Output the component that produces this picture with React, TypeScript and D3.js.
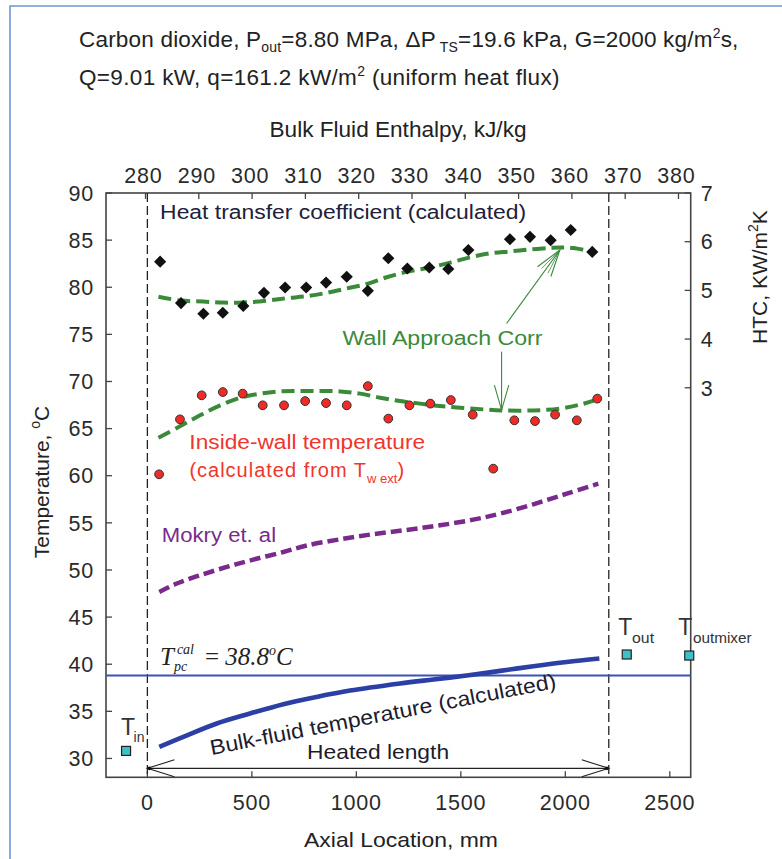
import React from 'react';
import * as d3 from 'd3';

// ---------- data ----------
const axialTicks = [0, 500, 1000, 1500, 2000, 2500];
const tempTicks = [30, 35, 40, 45, 50, 55, 60, 65, 70, 75, 80, 85, 90];
const htcTicks = [3, 4, 5, 6, 7];
const enthalpyTicks = [280, 290, 300, 310, 320, 330, 340, 350, 360, 370, 380];

// Heat transfer coefficient (calculated), kW/m2K
const htcAxial = [61, 161, 268, 361, 459, 558, 659, 760, 855, 954, 1055, 1153, 1244, 1349, 1440, 1536, 1735, 1831, 1930, 2026, 2129];
const htcValues = [5.59, 4.74, 4.52, 4.54, 4.68, 4.95, 5.06, 5.06, 5.16, 5.28, 4.99, 5.66, 5.45, 5.47, 5.44, 5.83, 6.05, 6.10, 6.03, 6.24, 5.79];

// Wall Approach Corr (HTC)
const wallHtcAxial = [53, 161, 267, 362, 458, 571, 667, 763, 858, 954, 1050, 1145, 1241, 1353, 1449, 1545, 1640, 1736, 1832, 1927, 1975, 2038, 2134];
const wallHtcValues = [4.87, 4.79, 4.77, 4.75, 4.75, 4.79, 4.84, 4.88, 4.95, 5.04, 5.13, 5.27, 5.38, 5.47, 5.57, 5.68, 5.76, 5.80, 5.84, 5.87, 5.88, 5.87, 5.79];

// Wall Approach Corr (inside-wall temperature)
const wallTempAxial = [53, 156, 252, 348, 444, 540, 636, 732, 827, 923, 1018, 1114, 1209, 1305, 1401, 1496, 1606, 1696, 1845, 1974, 2070, 2150];
const wallTempValues = [64.04, 65.24, 66.41, 67.47, 68.28, 68.71, 68.95, 68.98, 68.98, 68.95, 68.71, 68.28, 67.92, 67.65, 67.39, 67.22, 67.04, 66.93, 66.93, 67.12, 67.54, 68.07];

// Inside-wall temperature (calculated from Tw ext)
const wallAxial = [56, 156, 260, 361, 456, 552, 654, 755, 855, 954, 1055, 1153, 1254, 1354, 1452, 1557, 1655, 1756, 1855, 1951, 2055, 2153];
const wallValues = [60.15, 65.98, 68.53, 68.88, 68.71, 67.47, 67.47, 67.92, 67.71, 67.47, 69.51, 66.06, 67.47, 67.65, 68.03, 66.48, 60.75, 65.88, 65.80, 66.48, 65.88, 68.18];

// Mokry et al.
const mokryAxial = [57, 141, 252, 380, 507, 651, 763, 922, 1081, 1241, 1400, 1560, 1688, 1847, 2007, 2158];
const mokryValues = [47.67, 48.56, 49.44, 50.32, 51.10, 51.91, 52.60, 53.25, 53.80, 54.25, 54.74, 55.34, 55.98, 56.97, 58.10, 59.16];

// Bulk-fluid temperature (calculated)
const bulkAxial = [57, 172, 332, 491, 651, 810, 970, 1209, 1369, 1528, 1688, 1847, 2007, 2163];
const bulkValues = [31.23, 32.29, 33.71, 34.77, 35.76, 36.53, 37.20, 37.95, 38.38, 38.80, 39.29, 39.79, 40.24, 40.60];

// T_in, T_out, T_out mixer
const tempPointAxial = [-102, 2294, 2593];
const tempPointValues = [30.8, 41.03, 40.92];

const tpc = 38.8;
const heatedStart = 0;
const heatedEnd = 2208;

// ---------- layout ----------
const W = 782;
const H = 859;
const L = 106;
const R = 690.7;
const T = 193;
const B = 777.3;
const SANS = 'Liberation Sans, Arial, sans-serif';
const SERIF = 'Liberation Serif, Times New Roman, serif';

const x = d3.scaleLinear().domain([-198, 2600]).range([L, R]);
const y = d3.scaleLinear().domain([28, 90]).range([B, T]);
const yH = d3.scaleLinear().domain([-5, 7]).range([B, T]);
const xE = d3.scaleLinear().domain([280, 380]).range([145.5, 678.5]);

const zip = (a: number[], b: number[]) => a.map((v, i) => [v, b[i]] as [number, number]);

const lineT = d3.line<[number, number]>().x(d => x(d[0])).y(d => y(d[1])).curve(d3.curveCatmullRom.alpha(0.5));
const lineH = d3.line<[number, number]>().x(d => x(d[0])).y(d => yH(d[1])).curve(d3.curveCatmullRom.alpha(0.5));

function openHead(x1: number, y1: number, x2: number, y2: number, len: number, ang: number) {
  const a = Math.atan2(y1 - y2, x1 - x2);
  const p1 = [x2 + len * Math.cos(a + ang), y2 + len * Math.sin(a + ang)];
  const p2 = [x2 + len * Math.cos(a - ang), y2 + len * Math.sin(a - ang)];
  return `M${p1[0]},${p1[1]}L${x2},${y2}L${p2[0]},${p2[1]}`;
}

export default function App() {
  const diamond = d3.symbol(d3.symbolSquare, 74)();
  const green = '#3a8a3a';
  const purple = '#7a2a8c';

  // annotation anchors
  const a1s = [x(1719), yH(4.32)];
  const a1e = [x(1974), yH(5.83)];
  const a2s = [x(1695), y(73.16)];
  const a2e = [x(1695), y(66.97)];
  const hy = y(28.95);
  const hx0 = x(heatedStart);
  const hx1 = x(heatedEnd);

  return (
    <svg width={W} height={H} style={{ position: 'absolute', left: 0, top: 0, background: '#fff' }} fontFamily={SANS}>
      <rect x={0} y={0} width={W} height={H} fill="#fff" />
      <path d={`M10,${H}V6H${W}`} fill="none" stroke="#6b98d6" strokeWidth={1.6} />

      {/* title */}
      <text x={79} y={46.7} fontSize={22.5} letterSpacing={0.2} fill="#222">
        Carbon dioxide, P<tspan fontSize={14} dy={5}>out</tspan>
        <tspan dy={-5}>=8.80 MPa, ΔP</tspan>
        <tspan fontSize={14} dy={5}> TS</tspan>
        <tspan dy={-5}>=19.6 kPa, G=2000 kg/m</tspan>
        <tspan fontSize={14} dy={-9}>2</tspan>
        <tspan dy={9}>s,</tspan>
      </text>
      <text x={79} y={85} fontSize={22.5} letterSpacing={0.35} fill="#222">
        Q=9.01 kW, q=161.2 kW/m<tspan fontSize={14} dy={-9}>2</tspan>
        <tspan dy={9}> (uniform heat flux)</tspan>
      </text>

      {/* top axis title */}
      <text x={398} y={136.7} fontSize={21.5} textAnchor="middle" textLength={257} lengthAdjust="spacingAndGlyphs" fill="#222">
        Bulk Fluid Enthalpy, kJ/kg
      </text>

      {/* frame */}
      <rect x={L} y={T} width={R - L} height={B - T} fill="none" stroke="#444" strokeWidth={1.6} />

      {/* left ticks */}
      {tempTicks.map(t => (
        <g key={'lt' + t}>
          <line x1={L} x2={L + 6} y1={y(t)} y2={y(t)} stroke="#444" strokeWidth={1.3} />
          <text x={L - 12} y={y(t)} dy="0.36em" fontSize={21.5} letterSpacing={0.8} textAnchor="end" fill="#2a2a2a">{t}</text>
        </g>
      ))}
      {/* right ticks */}
      {htcTicks.map(t => (
        <g key={'rt' + t}>
          <line x1={R - 6} x2={R} y1={yH(t)} y2={yH(t)} stroke="#444" strokeWidth={1.3} />
          <text x={R + 10} y={yH(t)} dy="0.36em" fontSize={21.5} textAnchor="start" fill="#2a2a2a">{t}</text>
        </g>
      ))}
      {/* bottom ticks */}
      {axialTicks.map(t => (
        <g key={'bt' + t}>
          <line x1={x(t)} x2={x(t)} y1={B} y2={B - 6} stroke="#444" strokeWidth={1.3} />
          <text x={x(t)} y={B + 33} fontSize={21.5} letterSpacing={0.8} textAnchor="middle" fill="#2a2a2a">{t}</text>
        </g>
      ))}
      {/* top ticks */}
      {enthalpyTicks.map(t => (
        <g key={'tt' + t}>
          <line x1={xE(t)} x2={xE(t)} y1={T} y2={T + 6} stroke="#444" strokeWidth={1.3} />
          <text x={xE(t) - 2} y={T - 10.5} fontSize={21.5} letterSpacing={0.8} textAnchor="middle" fill="#2a2a2a">{t}</text>
        </g>
      ))}

      {/* axis titles */}
      <text transform={`translate(49,482) rotate(-90)`} fontSize={21} textAnchor="middle" fill="#222">
        Temperature, <tspan fontSize={14} dy={-9}>o</tspan><tspan dy={9}>C</tspan>
      </text>
      <text transform={`translate(767,277) rotate(-90)`} fontSize={21} textAnchor="middle" fill="#222">
        HTC, KW/m<tspan fontSize={14} dy={-9}>2</tspan><tspan dy={9}>K</tspan>
      </text>
      <text x={401} y={847} fontSize={21} textAnchor="middle" textLength={194} lengthAdjust="spacingAndGlyphs" fill="#222">
        Axial Location, mm
      </text>

      {/* heated-length boundaries */}
      <line x1={hx0} x2={hx0} y1={T} y2={B} stroke="#222" strokeWidth={1.3} strokeDasharray="9,4" />
      <line x1={hx1} x2={hx1} y1={T} y2={B} stroke="#222" strokeWidth={1.3} strokeDasharray="9,4" />

      {/* pseudocritical line */}
      <line x1={L} x2={R} y1={y(tpc)} y2={y(tpc)} stroke="#3d51b4" strokeWidth={2} />

      {/* curves */}
      <path d={lineT(zip(bulkAxial, bulkValues)) || ''} fill="none" stroke="#2c3fa4" strokeWidth={4.6} />
      <path d={lineT(zip(mokryAxial, mokryValues)) || ''} fill="none" stroke={purple} strokeWidth={4.5} strokeDasharray="11,5" />
      <path d={lineT(zip(wallTempAxial, wallTempValues)) || ''} fill="none" stroke={green} strokeWidth={4} strokeDasharray="13,6" />
      <path d={lineH(zip(wallHtcAxial, wallHtcValues)) || ''} fill="none" stroke={green} strokeWidth={4} strokeDasharray="13,6" />

      {/* HTC diamonds */}
      {htcAxial.map((a, i) => (
        <path key={'d' + i} d={diamond || ''} transform={`translate(${x(a)},${yH(htcValues[i])}) rotate(45)`} fill="#111" />
      ))}

      {/* inside wall dots */}
      {wallAxial.map((a, i) => (
        <circle key={'w' + i} cx={x(a)} cy={y(wallValues[i])} r={4.4} fill="#ee2b24" stroke="#333" strokeWidth={1} />
      ))}

      {/* T in / out squares */}
      {tempPointAxial.map((a, i) => (
        <rect key={'s' + i} x={x(a) - 4.5} y={y(tempPointValues[i]) - 4.5} width={9} height={9} fill="#3fc0c8" stroke="#222" strokeWidth={1.2} />
      ))}

      {/* arrows for Wall Approach Corr */}
      <line x1={a1s[0]} y1={a1s[1]} x2={a1e[0]} y2={a1e[1]} stroke={green} strokeWidth={1.1} />
      <path d={openHead(a1s[0], a1s[1], a1e[0], a1e[1], 28, 0.3)} fill="none" stroke={green} strokeWidth={1.1} />
      <path d={openHead(a1s[0], a1s[1], a1e[0], a1e[1], 26, 0.15)} fill="none" stroke={green} strokeWidth={0.8} />
      <line x1={a2s[0]} y1={a2s[1]} x2={a2e[0]} y2={a2e[1]} stroke={green} strokeWidth={1.1} />
      <path d={openHead(a2s[0], a2s[1], a2e[0], a2e[1], 26, 0.28)} fill="none" stroke={green} strokeWidth={1.1} />

      {/* heated length arrow */}
      <line x1={hx0} x2={hx1} y1={hy} y2={hy} stroke="#222" strokeWidth={1.4} />
      <path d={`M${hx0 + 27},${hy - 8.5}L${hx0},${hy}L${hx0 + 27},${hy + 8.5}`} fill="none" stroke="#222" strokeWidth={1.1} />
      <path d={`M${hx1 - 27},${hy - 8.5}L${hx1},${hy}L${hx1 - 27},${hy + 8.5}`} fill="none" stroke="#222" strokeWidth={1.1} />
      <circle cx={hx0 + 2} cy={hy} r={1.8} fill="#111" />
      <circle cx={hx1 - 2} cy={hy} r={1.8} fill="#111" />

      {/* annotations */}
      <text x={x(61)} y={y(87.21)} fontSize={20} textLength={366} lengthAdjust="spacingAndGlyphs" fill="#20203a">
        Heat transfer coefficient (calculated)
      </text>
      <text x={x(934)} y={y(73.87)} fontSize={20} textLength={200} lengthAdjust="spacingAndGlyphs" fill={green}>
        Wall Approach Corr
      </text>
      <text x={x(201)} y={y(62.8)} fontSize={20} textLength={235.7} lengthAdjust="spacingAndGlyphs" fill="#f0352c">
        Inside-wall temperature
      </text>
      <text x={x(201)} y={y(59.83)} fontSize={20} letterSpacing={1.0} fill="#f0352c">
        (calculated from T<tspan fontSize={13} dy={6} letterSpacing={0}>w ext</tspan><tspan dy={-6}>)</tspan>
      </text>
      <text x={x(69)} y={y(53.0)} fontSize={20} textLength={114.3} lengthAdjust="spacingAndGlyphs" fill={purple}>
        Mokry et. al
      </text>
      <text x={(hx0 + hx1) / 2} y={y(29.98)} fontSize={21} textAnchor="middle" textLength={142} lengthAdjust="spacingAndGlyphs" fill="#1c1c2c">
        Heated length
      </text>
      <text transform={`translate(${x(307)},${y(30.37)}) rotate(-11)`} fontSize={21} textLength={352} lengthAdjust="spacingAndGlyphs" fill="#1c1c30">
        Bulk-fluid temperature (calculated)
      </text>

      {/* T labels */}
      <text x={x(-102) - 5} y={y(30.8) - 15.5} fontSize={23} fill="#333">T</text>
      <text x={x(-102) + 7.5} y={y(30.8) - 9} fontSize={14} fill="#333">in</text>
      <text x={x(2294) - 8.4} y={y(41.03) - 19.5} fontSize={23} fill="#333">T</text>
      <text x={x(2294) + 5.3} y={y(41.03) - 12} fontSize={14} fill="#333" textLength={22} lengthAdjust="spacingAndGlyphs">out</text>
      <text x={x(2593) - 11} y={y(40.92) - 20.5} fontSize={23} fill="#333">T</text>
      <text x={x(2593) + 3.7} y={y(40.92) - 13} fontSize={14} fill="#333" textLength={58.7} lengthAdjust="spacingAndGlyphs">outmixer</text>

      {/* Tpc label */}
      <g fontFamily={SERIF} fontStyle="italic" fill="#222">
        <text x={x(60)} y={y(tpc) - 11} fontSize={25}>T</text>
        <text x={x(60) + 17} y={y(tpc) - 22} fontSize={14}>cal</text>
        <text x={x(60) + 14} y={y(tpc) - 5} fontSize={14}>pc</text>
        <text x={x(60) + 45} y={y(tpc) - 11} fontSize={25}>
          <tspan fontStyle="normal">= </tspan>38.8<tspan fontSize={14} dy={-10}>o</tspan><tspan dy={10}>C</tspan>
        </text>
      </g>
    </svg>
  );
}
